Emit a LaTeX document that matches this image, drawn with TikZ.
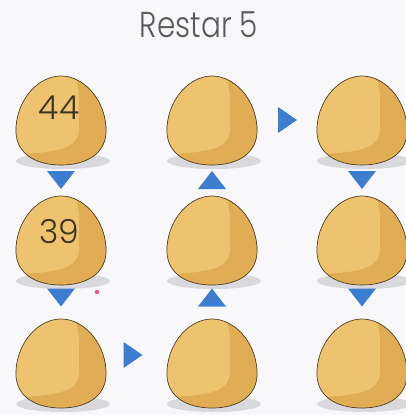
\documentclass[tikz,border=0pt]{standalone}
\usepackage{fontspec}
\setmainfont{Poppins}[UprightFont={* Light}]
\definecolor{paper}{HTML}{F8F8FA}
\definecolor{eggbody}{HTML}{EEC370}
\definecolor{eggdark}{HTML}{E0AD55}
\definecolor{eggline}{HTML}{4E3E26}
\definecolor{shadowgrey}{HTML}{D8D8DD}
\definecolor{arrowblue}{HTML}{3C7DD0}
\definecolor{inkgrey}{HTML}{5A5A5A}

\newcommand{\eggpath}[2]{%
  % (#1,#2) = centre of the egg
    ({#1}, {#2 - 44})
    .. controls ({#1 + 22}, {#2 - 44}) and ({#1 + 43}, {#2 - 22}) .. ({#1 + 45}, {#2 + 7})
    .. controls ({#1 + 47}, {#2 + 33}) and ({#1 + 26}, {#2 + 45}) .. ({#1}, {#2 + 45})
    .. controls ({#1 - 26}, {#2 + 45}) and ({#1 - 47}, {#2 + 33}) .. ({#1 - 45}, {#2 + 7})
    .. controls ({#1 - 43}, {#2 - 22}) and ({#1 - 22}, {#2 - 44}) .. ({#1}, {#2 - 44})
    -- cycle
}
\newcommand{\eggshade}[2]{%
  % darker band on the right and along the bottom
    ({#1 + 12}, {#2 - 50})
    .. controls ({#1 + 20}, {#2 - 32}) and ({#1 + 18}, {#2 - 15}) .. ({#1 + 18}, {#2 + 8})
    .. controls ({#1 + 18}, {#2 + 26}) and ({#1 + 5}, {#2 + 32}) .. ({#1 - 40}, {#2 + 34})
    -- ({#1 - 60}, {#2 + 60}) -- ({#1 + 60}, {#2 + 60}) -- ({#1 + 60}, {#2 - 60})
    -- cycle
}

\tikzset{
  title/.style={text=inkgrey, inner sep=0pt, font=\fontsize{36}{40}\selectfont\addfontfeature{FakeStretch=0.82}},
  number/.style={text=eggline!80!black, inner sep=0pt, font=\fontsize{33}{36}\selectfont},
  tridown/.pic={\fill[arrowblue] (-14,-9) -- (14,-9) -- (0,9) -- cycle;},
  triup/.pic={\fill[arrowblue] (-14,9) -- (14,9) -- (0,-9) -- cycle;},
  triright/.pic={\fill[arrowblue] (-9,-13) -- (-9,13) -- (10,0) -- cycle;}
}

\begin{document}
\begin{tikzpicture}[x=1pt, y=-1pt]
		\useasboundingbox (0,0) rectangle (405,415);
		\fill[paper] (0,0) rectangle (405,415);
		\node[title] (ttl) at (199,25) {Restar 5};
		% eggs, row by row
		\foreach \name/\cx/\cy in {e11/61/120, e12/212/120, e13/362/120,
		                           e21/61/240, e22/212/240, e23/362/240,
		                           e31/61/363, e32/212/363, e33/362/363} {
			\coordinate (\name) at (\cx,\cy);
			\fill[shadowgrey] ({\cx + 2}, {\cy + 41}) ellipse [x radius=47, y radius=8];
			\fill[eggbody] \eggpath{\cx}{\cy};
			\begin{scope}
				\clip \eggpath{\cx}{\cy};
				\fill[eggdark] \eggshade{\cx}{\cy};
			\end{scope}
			\draw[eggline, line width=0.7pt] \eggpath{\cx}{\cy};
		}
		\node[number] (n44) at (59,108) {44};
		\node[number] (n39) at (59,232) {39};
		\fill[red!60!magenta!70!white] (97,292) circle (2.2);
		% direction marks between the eggs
		\path (e11) -- (e21) coordinate[midway] (m1);
		\path (e21) -- (e31) coordinate[midway] (m2);
		\path (e31) -- (e32) coordinate[midway] (m3);
		\path (e32) -- (e22) coordinate[midway] (m4);
		\path (e22) -- (e12) coordinate[midway] (m5);
		\path (e12) -- (e13) coordinate[midway] (m6);
		\path (e13) -- (e23) coordinate[midway] (m7);
		\path (e23) -- (e33) coordinate[midway] (m8);
		\pic at (m1) {tridown};
		\pic at ([yshift=4pt]m2) {tridown};
		\pic at ([xshift=-4pt, yshift=8pt]m3) {triright};
		\pic at ([yshift=4pt]m4) {triup};
		\pic at (m5) {triup};
		\pic at (m6) {triright};
		\pic at (m7) {tridown};
		\pic at ([yshift=4pt]m8) {tridown};
	\end{tikzpicture}
\end{document}
